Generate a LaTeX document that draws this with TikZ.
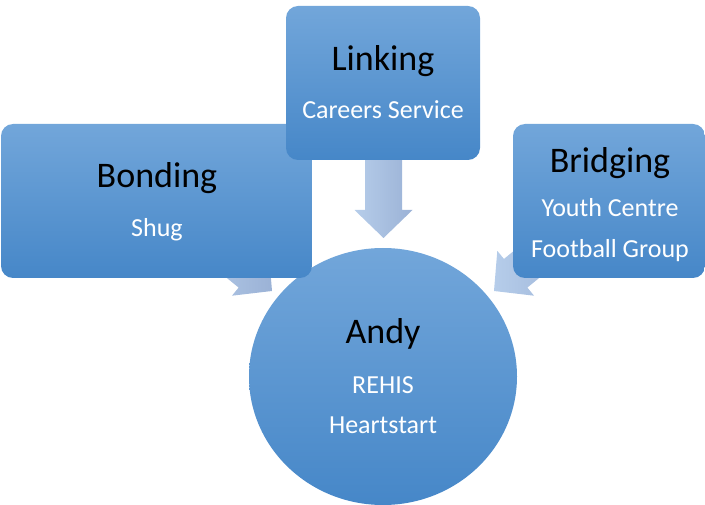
\documentclass[tikz,border=0pt]{standalone}
\usepackage{fontspec}
\setmainfont{Carlito}
\usetikzlibrary{shapes.geometric}
\definecolor{boxtop}{RGB}{114,166,218}
\definecolor{boxmid}{RGB}{90,155,215}
\definecolor{boxbot}{RGB}{70,135,200}
\definecolor{arrlight}{RGB}{182,205,234}
\definecolor{arrdark}{RGB}{155,178,214}
\tikzset{
  blockbox/.style={rectangle, rounded corners=12pt, inner sep=0pt,
    top color=boxtop, middle color=boxmid, bottom color=boxbot, draw=none},
  hubshape/.style={ellipse, inner sep=0pt, minimum width=268pt, minimum height=257pt,
    top color=boxtop, middle color=boxmid, bottom color=boxbot, draw=none},
  titletext/.style={anchor=base, text=black, font=\fontsize{36}{40}\selectfont, inner sep=0pt},
  subtext/.style={anchor=base, text=white, font=\fontsize{26}{30}\selectfont, inner sep=0pt},
  blockarrow/.style={left color=arrlight, right color=arrdark, draw=none}
}
\newcommand\myarrow[3]{%
  \begin{scope}[shift={(#1,#2)}, rotate=#3]
    \path[blockarrow] (0,0) -- (-28,29) -- (-28,18.5) -- (-95,18.5) -- (-95,-18.5)
      -- (-28,-18.5) -- (-28,-29) -- cycle;
  \end{scope}}
\begin{document}
\begin{tikzpicture}[x=1pt, y=-1pt]
\useasboundingbox (0,0) rectangle (705,505);
% arrows
\coordinate (tipL) at (272,291);
\coordinate (tipM) at (383.5,238);
\coordinate (tipR) at (494,291);
\myarrow{272}{291}{-39.3}
\myarrow{383.5}{238}{-90}
\myarrow{494}{291}{-140.7}
% hub
\node[hubshape] (andy) at (383,376.5) {};
% boxes
\node[blockbox, minimum width=311pt, minimum height=154pt] (bonding) at (156.5,201) {};
\node[blockbox, minimum width=194pt, minimum height=154pt] (linking) at (383,83) {};
\node[blockbox, minimum width=192pt, minimum height=154pt] (bridging) at (609,201) {};
% texts
\node[titletext] (tLinking) at (383,71) {Linking};
\node[subtext] (sLinking) at (383,119) {Careers Service};
\node[titletext] (tBonding) at (157,188) {Bonding};
\node[subtext] (sBonding) at (157,237) {Shug};
\node[titletext] (tBridging) at (610,173) {Bridging};
\node[subtext] (sBridging1) at (610,217) {Youth Centre};
\node[subtext] (sBridging2) at (610,258) {Football Group};
\node[titletext] (tAndy) at (383,344) {Andy};
\node[subtext] (sAndy1) at (383,393) {REHIS};
\node[subtext] (sAndy2) at (383,433) {Heartstart};
\end{tikzpicture}
\end{document}
